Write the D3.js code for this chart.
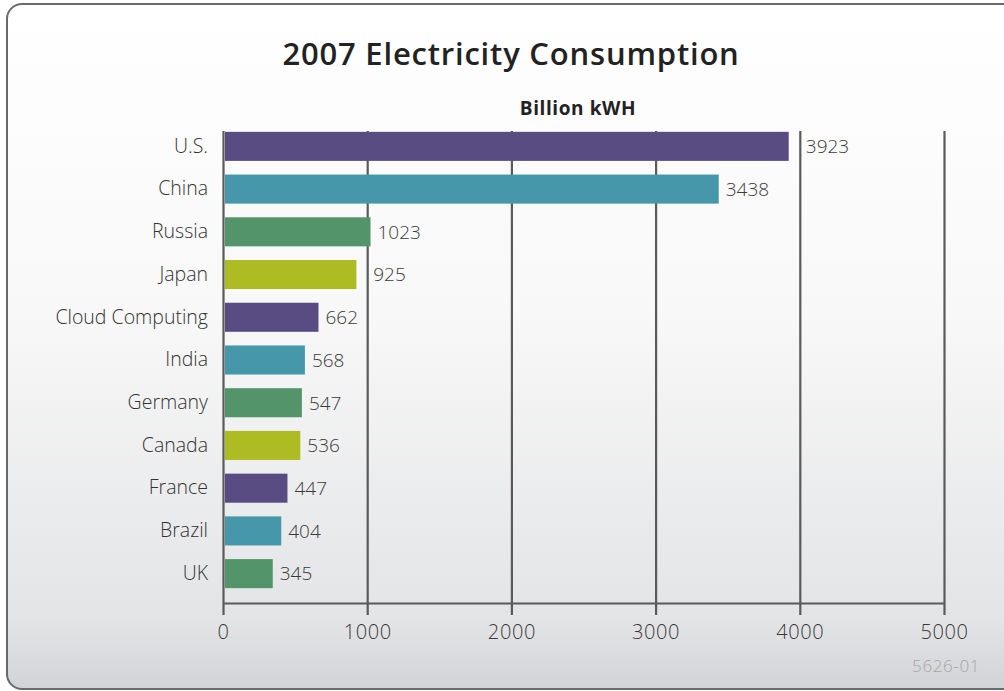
<!DOCTYPE html>
<html>
<head>
<meta charset="utf-8">
<script src="https://cdn.jsdelivr.net/npm/d3@7"></script>
<style>
  body { margin: 0; background: #fff; }
  svg text { font-family: "Open Sans", "Noto Sans", sans-serif; }
</style>
</head>
<body>
<div id="chart"></div>
<script>
// data
var countries = ["U.S.", "China", "Russia", "Japan", "Cloud Computing", "India", "Germany", "Canada", "France", "Brazil", "UK"];
var consumption = [3923, 3438, 1023, 925, 662, 568, 547, 536, 447, 404, 345];
var barColors = ["#584c83", "#4697a9", "#54946a", "#adbc23"];
var xTicks = [0, 1000, 2000, 3000, 4000, 5000];

var width = 1004, height = 691;

var svg = d3.select("#chart").append("svg")
    .attr("width", width)
    .attr("height", height);

// background gradient + frame
var grad = svg.append("defs").append("linearGradient")
    .attr("id", "bg")
    .attr("x1", 0).attr("y1", 0).attr("x2", 0).attr("y2", 1);
grad.append("stop").attr("offset", "0%").attr("stop-color", "#ffffff");
grad.append("stop").attr("offset", "45%").attr("stop-color", "#f8f8f8");
grad.append("stop").attr("offset", "90%").attr("stop-color", "#e3e4e6");
grad.append("stop").attr("offset", "100%").attr("stop-color", "#d2d3d6");

svg.append("rect")
    .attr("x", 7).attr("y", 4)
    .attr("width", 1020).attr("height", 685)
    .attr("rx", 15).attr("ry", 15)
    .attr("fill", "url(#bg)")
    .attr("stroke", "#6a6a6a")
    .attr("stroke-width", 2);

const data = countries.map((c, i) => ({name: c, value: consumption[i], color: barColors[i % 4]}));

const axisY = 603;
const gridTop = 131;

const xScale = d3.scaleLinear()
    .domain([0, 5000])
    .range([223, 944]);

const yScale = d3.scaleBand()
    .domain(countries)
    .range([125, 595])
    .paddingInner(0.32)
    .paddingOuter(0.16);

// gridlines
const gridG = svg.append("g")
    .attr("transform", `translate(0, ${axisY})`)
    .call(d3.axisBottom(xScale).tickValues(xTicks).tickSize(-(axisY - gridTop)).tickFormat(""));
gridG.select(".domain").remove();
gridG.selectAll("line").attr("stroke", "#5a5a5a").attr("stroke-width", 2.2);

// bottom axis
const xAxisG = svg.append("g")
    .attr("transform", `translate(0, ${axisY})`)
    .call(d3.axisBottom(xScale).tickValues(xTicks).tickFormat(d3.format("d"))
        .tickSize(12).tickSizeOuter(0).tickPadding(10));
xAxisG.select(".domain").attr("stroke", "#5a5a5a").attr("stroke-width", 2.2);
xAxisG.selectAll("line").attr("stroke", "#5a5a5a").attr("stroke-width", 2.2);
xAxisG.selectAll("text")
    .attr("fill", "#3a3a3a")
    .style("font-size", "20px")
    .style("letter-spacing", "0.6px")
    .style("font-weight", 300);

// bars
svg.append("g").selectAll("rect")
    .data(data)
    .join("rect")
    .attr("x", xScale(0) + 2)
    .attr("y", d => yScale(d.name))
    .attr("width", d => xScale(d.value) - xScale(0) - 2)
    .attr("height", yScale.bandwidth())
    .attr("fill", d => d.color);

// value labels, pushed past a gridline if they would sit on it
const labelX = v => {
    let x = xScale(v) + 7;
    xTicks.forEach(t => {
        const gx = xScale(t);
        if (gx >= x - 3 && gx <= x + 8) x = gx + 6;
    });
    return x;
};

svg.append("g").selectAll("text")
    .data(data)
    .join("text")
    .attr("x", d => labelX(d.value))
    .attr("y", d => yScale(d.name) + yScale.bandwidth() / 2)
    .attr("dy", "0.36em")
    .attr("fill", "#3a3a3a")
    .style("font-size", "19px")
    .style("font-weight", 300)
    .text(d => d.value);

// category labels
const yAxisG = svg.append("g")
    .attr("transform", `translate(208, 0)`)
    .call(d3.axisLeft(yScale).tickSize(0).tickPadding(0));
yAxisG.select(".domain").remove();
yAxisG.selectAll("text")
    .attr("fill", "#333")
    .style("font-size", "19.5px")
    .style("font-weight", 300);

// titles
svg.append("text")
    .attr("x", 511)
    .attr("y", 65)
    .attr("text-anchor", "middle")
    .attr("fill", "#222")
    .style("font-size", "31px")
    .style("letter-spacing", "0.8px")
    .style("font-weight", 600)
    .text("2007 Electricity Consumption");

svg.append("text")
    .attr("x", 578)
    .attr("y", 115)
    .attr("text-anchor", "middle")
    .attr("fill", "#222")
    .style("font-size", "19px")
    .style("letter-spacing", "0.6px")
    .style("font-weight", 700)
    .text("Billion kWH");

svg.append("text")
    .attr("x", 980)
    .attr("y", 672)
    .attr("text-anchor", "end")
    .attr("fill", "#a5a5a5")
    .style("font-size", "17px")
    .style("letter-spacing", "0.6px")
    .style("font-weight", 300)
    .text("5626-01");
</script>
</body>
</html>
